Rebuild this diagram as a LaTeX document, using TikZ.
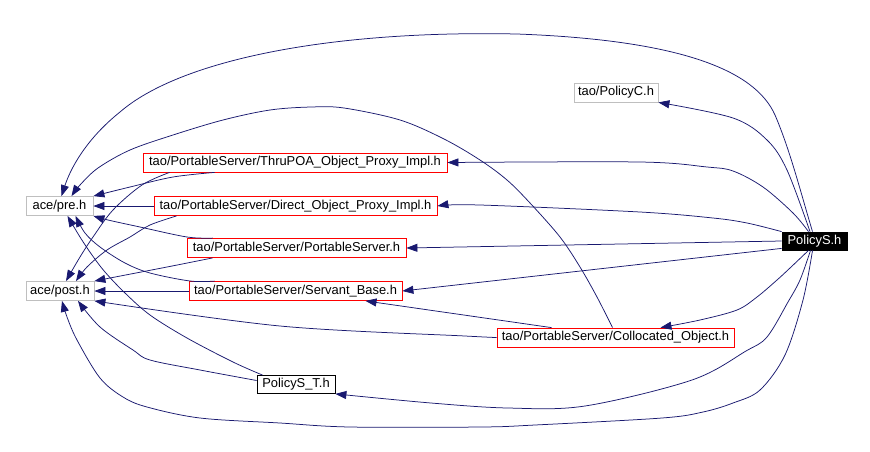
\documentclass[tikz,border=0pt]{standalone}
\usepackage{fontspec}
\setmainfont{Liberation Sans}
\usetikzlibrary{arrows.meta,calc}
\definecolor{edgecol}{HTML}{191970}
\definecolor{graybox}{HTML}{BFBFBF}
\tikzset{
  filebox/.style={draw, line width=0.8pt, inner sep=0pt, minimum height=19pt,
    font=\fontsize{12.9}{14}\selectfont, text height=9.4pt, text depth=2.6pt},
  redbox/.style={filebox, draw=red},
  greybox/.style={filebox, draw=graybox},
  blackbox/.style={filebox, draw=black},
  rootbox/.style={filebox, draw=black, fill=black, text=white},
  dep/.style={draw=edgecol, line width=0.75pt, -{Triangle[length=11pt,width=8pt]}, fill=none}
}
\begin{document}
\begin{tikzpicture}[x=1pt,y=-1pt]
\useasboundingbox (0,0) rectangle (870,451);
\fill[white] (0,0) rectangle (870,451);
% nodes
\node[greybox, minimum width=67pt] (pre) at (59.5,206) {ace/pre.h};
\node[greybox, minimum width=68pt] (post) at (60,291) {ace/post.h};
\node[redbox, minimum width=304pt] (thru) at (295,162.5) {tao/PortableServer/ThruPOA\_Object\_Proxy\_Impl.h};
\node[redbox, minimum width=283pt] (direct) at (295.5,206) {tao/PortableServer/Direct\_Object\_Proxy\_Impl.h};
\node[redbox, minimum width=219pt] (ps) at (296.5,248) {tao/PortableServer/PortableServer.h};
\node[redbox, minimum width=213pt] (sb) at (295.5,291) {tao/PortableServer/Servant\_Base.h};
\node[greybox, minimum width=84pt] (policyC) at (616,92.5) {tao/PolicyC.h};
\node[rootbox, minimum width=65pt, minimum height=18pt] (policyS) at (814.5,241) {PolicyS.h};
\node[redbox, minimum width=237pt] (coll) at (615.5,337.5) {tao/PortableServer/Collocated\_Object.h};
\node[blackbox, minimum width=78pt, minimum height=18pt] (pst) at (296,384.5) {PolicyS\_T.h};
% edges from PolicyS.h
\draw[dep] plot[smooth, tension=0.55] coordinates {($(policyS.north)+(-4.5,0)$) (787,170) (767,140) (733,118) (policyC.south east)};
\draw[dep] ($(policyS.north)+(-2,0)$) .. controls (800,190) and (790,150) .. (775,115)
  .. controls (755,70) and (680,40) .. (517,34)
  .. controls (330,30) and (180,60) .. (120,112)
  .. controls (85,140) and (70,170) .. ($(pre.north)+(2,0)$);
\draw[dep] plot[smooth, tension=0.55] coordinates {($(policyS.north)+(-6,0)$) (793,213) (763,187) (733,171) (707,167) (640,162) (thru.east)};
\draw[dep] plot[smooth, tension=0.55] coordinates {(policyS.north west) (747,223) (713,218) (640,212) (480,205) (direct.east)};
\draw[dep] (policyS.west) -- (ps.east);
\draw[dep] ($(policyS.south west)+(0,-2)$) -- (sb.east);
\draw[dep] plot[smooth, tension=0.55] coordinates {($(policyS.south)+(-6,0)$) (790,268) (777,280) (757,297) (737,310) (700,320) ($(coll.north)+(45,0)$)};
\draw[dep] plot[smooth, tension=0.55] coordinates {($(policyS.south)+(-4,0)$) (800,280) (788,302) (767,337) (746,351) (692,380) (585,406) (508,408) (431,403) (pst.south east)};
\draw[dep] plot[smooth, tension=0.55] coordinates {($(policyS.south)+(-2,0)$) (803,300) (785,355) (760,390) (733,403) (703,412) (662,418) (535,425) (481,427) (350,427) (280,423) (200,418) (147,407) (123,397) (100,378) (77,340) (67,317) ($(post.south)+(2,0)$)};
% edges from Collocated_Object.h
\draw[dep] plot[smooth, tension=0.55] coordinates {($(coll.north)+(-3,0)$) (597,297) (580,267) (560,237) (530,203) (507,180) (480,160) (444,139) (400,120) (344,108) (311,107) (270,110) (223,120) (173,135) (130,150) (98,168) (80,185) ($(pre.north)+(12,0)$)};
\draw[dep] ($(coll.north)+(-64,0)$) -- ($(sb.south)+(70,0)$);
\draw[dep] plot[smooth, tension=0.55] coordinates {(coll.west) (465,336) (280,326) (post.south east)};
% edges from PolicyS_T.h
\draw[dep] plot[smooth, tension=0.55] coordinates {($(pst.north west)+(6,0)$) (233,362) (187,338) (150,315) (125,293) (105,272) (92,255) (80,237) ($(pre.south)+(8,0)$)};
\draw[dep] plot[smooth, tension=0.55] coordinates {($(pst.west)+(0,-4)$) (200,370) (150,360) (133,350) (100,327) ($(post.south)+(18,0)$)};
% edges from Servant_Base.h
\draw[dep] plot[smooth, tension=0.55] coordinates {($(sb.north west)+(26,0)$) (190,281) (150,273) (125,263) (100,247) (85,233) ($(pre.south)+(16,0)$)};
\draw[dep] (sb.west) -- (post.east);
% edges from PortableServer.h
\draw[dep] plot[smooth, tension=0.55] coordinates {($(ps.north west)+(26,0)$) (187,237) (140,227) (108,220) (pre.south east)};
\draw[dep] plot[smooth, tension=0.55] coordinates {($(ps.south west)+(26,0)$) (167,267) (110,278) (post.north east)};
% edges from ThruPOA
\draw[dep] plot[smooth, tension=0.55] coordinates {($(thru.south west)+(72,0)$) (173,177) (130,187) (pre.north east)};
\draw[dep] plot[smooth, tension=0.55] coordinates {($(thru.south west)+(27,0)$) (142,185) (113,210) (93,237) (80,257) ($(post.north)+(6,0)$)};
% edges from Direct
\draw[dep] (direct.west) -- (pre.east);
\draw[dep] plot[smooth, tension=0.55] coordinates {($(direct.south west)+(23,0)$) (150,225) (130,237) (107,250) (87,267) ($(post.north)+(16,0)$)};
\end{tikzpicture}
\end{document}
